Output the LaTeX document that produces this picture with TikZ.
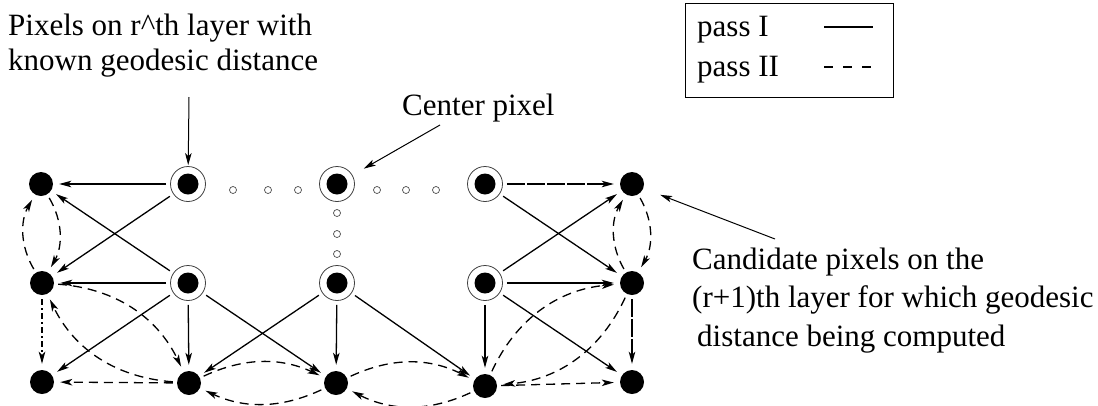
\documentclass[tikz,border=0pt]{standalone}
\usepackage{fontspec}
\setmainfont{Liberation Serif}
\newfontfamily\timesfont{Liberation Serif}
\usetikzlibrary{arrows.meta}
\begin{document}
\begin{tikzpicture}[x=1pt,y=-1pt,
  lbl/.style={font=\timesfont\fontsize{31}{35}\selectfont, inner sep=0pt, anchor=base west},
  ring/.style={circle, draw=black!75, line width=0.8pt, minimum size=35pt, inner sep=0pt,
    path picture={\fill[black] (path picture bounding box.center) circle (10.5pt);}},
  dot/.style={circle, fill=black, minimum size=24pt, inner sep=0pt},
  sdot/.style={circle, draw=black!70, line width=0.7pt, minimum size=7pt, inner sep=0pt},
  tip/.style={-{Stealth[length=12pt,width=6.5pt,inset=3pt]}},
  passone/.style={tip, line width=1.3pt, shorten >=6pt, shorten <=4pt},
  passtwo/.style={passone, dash pattern=on 9pt off 6pt},
  longdash/.style={passone, dash pattern=on 18pt off 2pt},
  dashdot/.style={passone, dash pattern=on 6pt off 3pt on 2pt off 3pt},
  ann/.style={tip, line width=1pt}
]
\useasboundingbox (0,0) rectangle (1098,405);

% texts
\node[lbl] (t1a) at (8,35) {Pixels on r\textasciicircum th layer with};
\node[lbl] (t1b) at (8,70) {known geodesic distance};
\node[lbl] (t2) at (402,115) {Center pixel};
\node[lbl] (t3a) at (692,269) {Candidate pixels on the};
\node[lbl] (t3b) at (692,307) {(r+1)th layer for which geodesic};
\node[lbl] (t3c) at (697,346) {distance being computed};

% legend
\node[draw, line width=0.9pt, minimum width=208pt, minimum height=94pt, inner sep=0pt, anchor=north west] (leg) at (685,3) {};
\node[lbl] (p1) at (697,36) {pass I};
\node[lbl] (p2) at (697,76) {pass II};
\draw[line width=1.1pt] (824,27) -- (873,27);
\draw[line width=1.1pt, dash pattern=on 9pt off 10pt] (824,67) -- (873,67);

% nodes
\node[dot] (L1) at (41,184) {};
\node[dot] (L2) at (42,283) {};
\node[dot] (L3) at (42,382) {};
\node[ring] (R1) at (188,184) {};
\node[ring] (R2) at (337,184) {};
\node[ring] (R3) at (485,184) {};
\node[ring] (R4) at (188,283) {};
\node[ring] (R5) at (337,283) {};
\node[ring] (R6) at (485,283) {};
\node[dot] (T1) at (632,184) {};
\node[dot] (T2) at (632,283) {};
\node[dot] (T3) at (632,382) {};
\node[dot] (B1) at (189,383) {};
\node[dot] (B2) at (336,383) {};
\node[dot] (B3) at (485,386) {};

\node[sdot] (s1) at (233,190) {};
\node[sdot] (s2) at (268,190) {};
\node[sdot] (s3) at (298,190) {};
\node[sdot] (s4) at (377,190) {};
\node[sdot] (s5) at (406,190) {};
\node[sdot] (s6) at (436,190) {};
\node[sdot] (s7) at (337,213) {};
\node[sdot] (s8) at (337,234) {};
\node[sdot] (s9) at (337,254) {};

% pass I
\draw[passone] (R1) -- (L1);
\draw[passone] (R1) -- (L2);
\draw[passone] (R4) -- (L1);
\draw[passone] (R4) -- (L2);
\draw[passone] (R4) -- (L3);
\draw[passone] (R4) -- (B1);
\draw[passone] (R4) -- (B2);
\draw[passone] (R5) -- (B1);
\draw[passone] (R5) -- (B2);
\draw[passone] (R5) -- (B3);
\draw[passone] (R3) -- (T2);
\draw[passone] (R6) -- (T1);
\draw[passone] (R6) -- (T2);
\draw[passone] (R6) -- (T3);
\draw[passone] (R6) -- (B3);

% pass II
\draw[longdash] (R3) -- (T1);
\draw[passtwo] (L2) to[bend left=30] (L1);
\draw[passtwo] (L1) to[bend left=30] (L2);
\draw[dashdot] (L2) -- (L3);
\draw[passtwo] (B1) -- (L3);
\draw[passtwo] (L2) to[bend left=30] (B1);
\draw[passtwo] (B1) to[bend left=30] (L2);
\draw[passtwo] (B1) to[bend left=25] (B2);
\draw[passtwo] (B2) to[bend left=25] (B1);
\draw[passtwo] (B2) to[bend left=26] (B3);
\draw[passtwo] (B3) to[bend left=26] (B2);
\draw[passtwo] (T2) to[bend left=30] (T1);
\draw[passtwo] (T1) to[bend left=30] (T2);
\draw[longdash] (T2) -- (T3);
\draw[passtwo] (B3) -- (T3);
\draw[passtwo] (B3) to[bend left=30] (T2);
\draw[passtwo] (T2) to[bend left=30] (B3);

% annotations
\coordinate (a1) at (189,97);
\coordinate (a2) at (440,125);
\coordinate (a3) at (775,239);
\draw[ann, shorten >=1pt] (a1) -- (R1);
\draw[ann, shorten >=13pt] (a2) -- (R2);
\draw[ann, shorten >=18pt] (a3) -- (T1);
\end{tikzpicture}
\end{document}
